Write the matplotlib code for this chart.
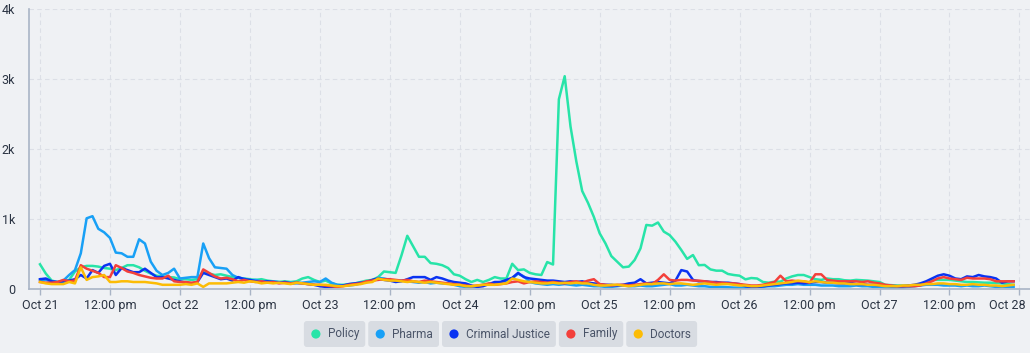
import numpy as np
import matplotlib.pyplot as plt
from matplotlib.patches import FancyBboxPatch, Circle
from matplotlib.transforms import ScaledTranslation

plt.rcParams['font.family'] = ['Roboto', 'DejaVu Sans']

# hourly counts, Oct 21 00:00 .. Oct 27 23:00
policy = [
    353, 220, 120, 100, 100, 130, 250, 310, 330, 330, 320, 300,
    290, 270, 300, 340, 340, 310, 260, 220, 190, 180, 170, 165,
    140, 140, 130, 140, 240, 220, 200, 210, 190, 170, 160, 150,
    140, 130, 140, 120, 110, 100, 110, 100, 110, 150, 170, 130,
    100, 120, 80, 60, 60, 70, 80, 100, 120, 130, 170, 250,
    240, 230, 480, 760, 610, 460, 460, 370, 360, 340, 300, 210,
    190, 140, 100, 130, 100, 130, 170, 150, 150, 360, 270, 280,
    230, 210, 200, 385, 350, 2710, 3040, 2320, 1820, 1400, 1230, 1030,
    795, 650, 470, 390, 310, 320, 415, 580, 915, 905, 950, 820,
    770, 675, 557, 430, 485, 340, 344, 280, 262, 262, 215, 200,
    190, 138, 157, 150, 100, 90, 105, 105, 150, 180, 200, 200,
    170, 140, 130, 150, 140, 140, 125, 120, 130, 125, 120, 110,
    100, 60, 55, 50, 50, 50, 55, 70, 90, 130, 130, 130,
    130, 120, 110, 100, 100, 95, 90, 90, 85, 80, 70, 60,
]
pharma = [
    130, 130, 110, 90, 120, 200, 270, 510, 1010, 1040, 860, 810,
    730, 520, 510, 460, 460, 710, 650, 390, 260, 200, 230, 290,
    150, 160, 170, 170, 650, 440, 310, 300, 290, 200, 160, 150,
    120, 130, 110, 100, 110, 100, 90, 90, 80, 90, 100, 110,
    100, 150, 90, 60, 50, 50, 60, 80, 100, 120, 160, 150,
    130, 110, 120, 110, 100, 90, 100, 80, 90, 80, 80, 60,
    40, 30, 30, 40, 60, 70, 90, 100, 120, 150, 220, 180,
    100, 80, 70, 60, 70, 60, 70, 60, 50, 60, 50, 40,
    40, 30, 30, 40, 50, 40, 40, 50, 40, 40, 50, 60,
    70, 50, 50, 60, 50, 40, 40, 30, 30, 30, 25, 20,
    20, 20, 25, 30, 30, 40, 40, 50, 60, 60, 70, 60,
    60, 60, 50, 50, 50, 40, 40, 40, 50, 40, 40, 30,
    30, 20, 20, 20, 20, 30, 40, 50, 60, 60, 60, 50,
    50, 50, 40, 50, 40, 40, 50, 40, 30, 30, 30, 30,
]
criminal_justice = [
    140, 150, 110, 100, 110, 120, 140, 200, 150, 270, 230, 330,
    360, 200, 300, 270, 240, 240, 290, 230, 170, 170, 150, 130,
    110, 90, 80, 100, 230, 200, 170, 140, 150, 120, 170, 140,
    130, 110, 100, 110, 100, 90, 100, 80, 90, 80, 70, 60,
    40, 30, 30, 40, 50, 70, 80, 90, 100, 130, 150, 130,
    120, 100, 110, 140, 170, 170, 170, 130, 170, 150, 120, 100,
    90, 80, 50, 30, 40, 70, 100, 100, 130, 160, 230, 170,
    150, 140, 130, 120, 120, 110, 100, 110, 100, 110, 90, 80,
    70, 60, 60, 50, 60, 80, 90, 140, 80, 90, 100, 90,
    80, 120, 270, 250, 130, 110, 110, 100, 100, 90, 90, 80,
    70, 40, 30, 30, 40, 50, 60, 70, 80, 80, 90, 80,
    90, 100, 100, 90, 90, 80, 80, 90, 70, 70, 60, 60,
    50, 50, 40, 40, 40, 50, 60, 80, 110, 150, 190, 210,
    190, 150, 140, 180, 170, 200, 180, 170, 150, 90, 110, 110,
]
family = [
    100, 90, 90, 100, 130, 110, 120, 340, 290, 260, 230, 170,
    170, 340, 300, 250, 230, 200, 180, 160, 150, 150, 190, 110,
    100, 100, 90, 100, 280, 230, 180, 150, 160, 140, 110, 130,
    110, 100, 110, 90, 100, 80, 90, 80, 90, 80, 70, 60,
    60, 50, 40, 30, 40, 60, 70, 80, 110, 120, 130, 140,
    140, 130, 120, 130, 110, 100, 120, 110, 100, 90, 80, 70,
    60, 50, 40, 50, 60, 80, 60, 70, 80, 100, 110, 80,
    100, 110, 100, 90, 100, 90, 80, 100, 110, 90, 120, 140,
    70, 60, 50, 60, 60, 50, 60, 70, 80, 70, 130, 210,
    130, 120, 130, 130, 120, 120, 110, 100, 90, 90, 80, 80,
    70, 60, 50, 50, 60, 80, 100, 190, 110, 120, 110, 110,
    90, 210, 210, 130, 120, 110, 110, 110, 110, 100, 110, 90,
    80, 60, 50, 40, 40, 40, 40, 50, 80, 110, 150, 170,
    150, 140, 130, 160, 150, 150, 150, 140, 110, 110, 110, 110,
]
doctors = [
    100, 80, 70, 70, 70, 100, 80, 310, 130, 170, 180, 200,
    100, 100, 110, 110, 100, 100, 100, 90, 80, 60, 60, 60,
    60, 70, 60, 80, 30, 80, 80, 80, 80, 90, 100, 90,
    110, 100, 80, 90, 80, 90, 80, 70, 90, 80, 70, 60,
    60, 60, 50, 40, 40, 50, 60, 70, 90, 100, 150, 130,
    120, 120, 110, 100, 110, 100, 90, 100, 90, 80, 70, 60,
    60, 40, 40, 50, 60, 60, 60, 70, 80, 150, 130, 110,
    100, 90, 80, 80, 90, 80, 90, 80, 90, 80, 80, 60,
    50, 50, 60, 60, 50, 40, 50, 60, 70, 70, 80, 80,
    70, 80, 80, 70, 60, 70, 80, 70, 60, 70, 70, 60,
    50, 50, 40, 40, 50, 60, 70, 80, 90, 100, 120, 110,
    100, 110, 100, 90, 90, 80, 80, 70, 70, 70, 60, 60,
    50, 40, 40, 40, 50, 50, 60, 60, 70, 70, 80, 80,
    70, 70, 60, 60, 70, 60, 60, 50, 50, 40, 50, 60,
]

series_names = ['Policy', 'Pharma', 'Criminal Justice', 'Family', 'Doctors']
series_colors = ['#27e4a8', '#18a0f6', '#0a33f2', '#f3403b', '#fcbc05']
x_labels = ['Oct 21', '12:00 pm', 'Oct 22', '12:00 pm', 'Oct 23', '12:00 pm',
            'Oct 24', '12:00 pm', 'Oct 25', '12:00 pm', 'Oct 26', '12:00 pm',
            'Oct 27', '12:00 pm', 'Oct 28']
y_ticks = [0, 1000, 2000, 3000, 4000]
y_labels = ['0', '1k', '2k', '3k', '4k']

W, H = 1030, 353
bg = '#eff1f4'
fig = plt.figure(figsize=(W / 100, H / 100), dpi=100, facecolor=bg)
ax = fig.add_axes([29 / W, 1 - 289 / H, 1001 / W, 280 / H], facecolor=bg)

hours = np.arange(len(policy))
for vals, c in zip([policy, pharma, criminal_justice, family, doctors], series_colors):
    ax.plot(hours, vals, color=c, lw=1.8, solid_joinstyle='round')

ax.set_xlim(-11 / 5.83, 990 / 5.83)
ax.set_ylim(0, 4000)
ax.set_xticks(np.arange(0, 169, 12))
ax.set_xticklabels(x_labels)
ax.set_yticks(y_ticks)
ax.set_yticklabels(y_labels)
ax.tick_params(axis='x', length=4, width=1, color='#a9b4c6', pad=3, labelsize=9, labelcolor='#2b3443')
ax.tick_params(axis='y', length=0, pad=10, labelsize=9, labelcolor='#2b3443')
last = ax.get_xticklabels()[-1]
last.set_horizontalalignment('right')
last.set_transform(last.get_transform() + ScaledTranslation(0.06, 0, fig.dpi_scale_trans))

ax.grid(True, color='#dcdfe6', linestyle=(0, (4, 3)), linewidth=0.8)
ax.set_axisbelow(True)
for s in ['top', 'right']:
    ax.spines[s].set_visible(False)
for s in ['left', 'bottom']:
    ax.spines[s].set_color('#a9b4c6')
    ax.spines[s].set_linewidth(1.2)

# legend chips below the plot
tr = fig.dpi_scale_trans
renderer = fig.canvas.get_renderer()
leg_fs = 8.5
widths = []
for name in series_names:
    t = fig.text(0, 0, name, fontsize=leg_fs)
    widths.append(t.get_window_extent(renderer).width)
    t.remove()
box_w = [24 + w + 6 for w in widths]
gap = 3
total = sum(box_w) + gap * (len(box_w) - 1)
x0 = 500.5 - total / 2
y_top, y_bot = 321, 347
yc = H - (y_top + y_bot) / 2
for name, c, bw in zip(series_names, series_colors, box_w):
    box = FancyBboxPatch(((x0 + 3) / 100, (H - y_bot + 3) / 100), (bw - 6) / 100, (y_bot - y_top - 6) / 100,
                         boxstyle='round,pad=0.03', transform=tr, facecolor='#d8dce2',
                         edgecolor='none', zorder=1)
    fig.patches.append(box)
    fig.patches.append(Circle(((x0 + 12) / 100, yc / 100), 4.6 / 100, transform=tr,
                              facecolor=c, edgecolor='none', zorder=2))
    fig.text((x0 + 24) / 100, yc / 100, name, transform=tr, fontsize=leg_fs,
             color='#4a5468', va='center', ha='left', zorder=3)
    x0 += bw + gap

fig.savefig('out.png', dpi=100, facecolor=bg)
